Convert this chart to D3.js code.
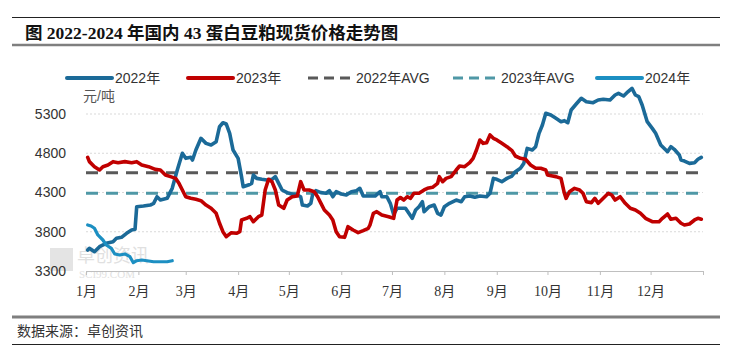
<!DOCTYPE html>
<html>
<head>
<meta charset="utf-8">
<script src="https://cdn.jsdelivr.net/npm/d3@7"></script>
<style>
  body { margin: 0; background: #fff; }
  svg text { font-family: "Liberation Sans", "Noto Sans CJK SC", sans-serif; }
</style>
</head>
<body>
<div id="chart"></div>
<script>
// month axis (day of year where each month starts)
var monthLabels = ["1月", "2月", "3月", "4月", "5月", "6月", "7月", "8月", "9月", "10月", "11月", "12月"];
var monthStarts = [0, 31, 59, 90, 120, 151, 181, 212, 243, 273, 304, 334];
var yTicks = [3300, 3800, 4300, 4800, 5300];

// [day of year, price yuan/ton]
var p2022 = [[1,3567],[2,3589],[5,3546],[8,3610],[12,3653],[16,3673],[18,3716],[21,3729],[24,3780],[27,3822],
  [29,3831],[30,4119],[34,4128],[38,4140],[40,4162],[42,4246],[44,4204],[48,4226],[51,4353],[54,4587],
  [57,4799],[59,4735],[62,4748],[63,4714],[65,4841],[68,4990],[71,4926],[74,4905],[77,4947],[79,5138],
  [81,5189],[83,5172],[85,5054],[87,4841],[90,4735],[92,4502],[93,4374],[96,4395],[98,4417],[99,4523],
  [101,4480],[104,4468],[107,4459],[110,4468],[112,4502],[114,4417],[116,4332],[119,4298],[122,4277],[125,4268],
  [127,4246],[128,4140],[131,4128],[133,4162],[134,4268],[136,4323],[139,4298],[142,4290],[144,4323],[146,4246],
  [148,4310],[151,4281],[154,4268],[157,4310],[160,4323],[162,4353],[164,4255],[167,4255],[171,4255],[174,4310],
  [175,4246],[178,4246],[180,4162],[182,4020],[184,4099],[187,4099],[189,4099],[191,4035],[193,3971],[195,4077],
  [197,4119],[199,4183],[200,4056],[203,4119],[206,4140],[208,4035],[210,4013],[212,4119],[215,4162],[219,4204],
  [222,4183],[224,4246],[227,4255],[230,4239],[233,4255],[237,4246],[239,4290],[241,4480],[243,4468],[246,4438],
  [249,4480],[252,4510],[254,4565],[257,4608],[259,4671],[261,4862],[264,4841],[266,4884],[268,5054],[270,5160],
  [272,5309],[275,5287],[278,5245],[281,5202],[283,5215],[285,5189],[287,5351],[290,5427],[293,5500],[296,5457],
  [300,5444],[303,5478],[306,5487],[310,5478],[313,5542],[315,5563],[318,5529],[320,5571],[323,5627],[325,5542],
  [327,5521],[329,5415],[332,5202],[335,5117],[337,5054],[340,4905],[343,4841],[344,4820],[346,4884],[348,4850],
  [351,4778],[352,4714],[354,4701],[357,4671],[360,4680],[362,4723],[364,4748]];

var p2023 = [[1,4748],[2,4693],[5,4629],[8,4587],[10,4629],[13,4650],[16,4693],[19,4680],[23,4693],[27,4680],
  [30,4693],[33,4650],[37,4629],[41,4595],[44,4587],[47,4523],[50,4502],[53,4480],[55,4417],[57,4332],
  [59,4246],[62,4226],[65,4213],[68,4196],[71,4140],[74,4099],[77,4035],[79,3908],[81,3801],[83,3737],
  [86,3788],[89,3780],[91,3801],[92,3950],[95,3971],[97,3992],[99,3928],[102,3992],[104,4013],[106,4332],
  [108,4468],[110,4438],[112,4332],[114,4140],[117,4099],[119,4204],[122,4246],[125,4255],[127,4438],[129,4332],
  [132,4332],[135,4310],[137,4246],[139,4162],[141,4077],[144,4013],[146,3950],[148,3801],[150,3737],[153,3729],
  [155,3865],[158,3822],[161,3788],[164,3814],[167,3844],[168,3886],[170,4035],[172,4056],[175,4013],[179,3992],
  [182,3971],[184,4204],[186,4236],[188,4204],[190,4246],[192,4226],[194,4290],[197,4290],[200,4332],[202,4353],
  [205,4366],[208,4417],[209,4502],[211,4438],[213,4480],[216,4502],[219,4587],[221,4638],[224,4629],[227,4680],
  [229,4735],[231,4841],[233,4969],[235,4926],[237,4935],[239,5033],[241,4990],[243,4969],[246,4926],[249,4884],
  [252,4833],[254,4765],[257,4735],[260,4723],[263,4650],[266,4608],[269,4608],[272,4587],[273,4523],[276,4510],
  [278,4502],[281,4480],[283,4290],[284,4226],[286,4310],[289,4353],[292,4332],[294,4290],[296,4183],[299,4171],
  [301,4226],[303,4162],[306,4226],[309,4290],[311,4268],[313,4204],[316,4246],[319,4162],[322,4099],[325,4077],
  [328,4035],[331,3971],[335,3928],[339,3928],[341,3971],[344,4026],[346,3959],[349,3971],[352,3908],[354,3886],
  [357,3899],[360,3950],[362,3971],[364,3959]];

var p2024 = [[1,3886],[3,3873],[5,3844],[7,3759],[10,3695],[12,3631],[15,3589],[17,3517],[20,3504],[23,3517],
  [26,3482],[28,3406],[30,3431],[33,3440],[36,3431],[40,3418],[44,3418],[48,3418],[51,3431]];

var avg2022 = 4552;
var avg2023 = 4290;

var svgWidth = 731;
var svgHeight = 362;

var svg = d3.select("#chart")
  .append("svg")
  .attr("width", svgWidth)
  .attr("height", svgHeight);

var x = d3.scaleLinear().domain([0, 365]).range([86, 703]);
var y = d3.scaleLinear().domain([3300, 5300]).range([271, 114]);

// title block
svg.append("line").attr("x1", 12).attr("x2", 720).attr("y1", 17.5).attr("y2", 17.5)
  .attr("stroke", "#222").attr("stroke-width", 1);
svg.append("text")
  .attr("x", 25).attr("y", 39)
  .style("font-family", "'Liberation Serif', 'Noto Sans CJK SC', serif")
  .style("font-size", "17.5px")
  .style("font-weight", "bold")
  .attr("fill", "#111")
  .text("图 2022-2024 年国内 43 蛋白豆粕现货价格走势图");
svg.append("line").attr("x1", 12).attr("x2", 720).attr("y1", 45).attr("y2", 45)
  .attr("stroke", "#7f7f7f").attr("stroke-width", 2.5);

// watermark
var wm = svg.append("g").attr("opacity", 0.55);
wm.append("rect").attr("x", 50).attr("y", 248).attr("width", 23).attr("height", 23).attr("fill", "#cfcfcf");
wm.append("text").attr("x", 77).attr("y", 262)
  .style("font-size", "18px").attr("fill", "#c8c8c8").text("卓创资讯");
wm.append("text").attr("x", 79).attr("y", 278)
  .style("font-family", "'Liberation Serif', serif")
  .style("font-size", "11px").attr("fill", "#c8c8c8").text("SCI99.COM");

// grid
svg.append("g").selectAll("line")
  .data(yTicks.slice(1))
  .enter().append("line")
  .attr("x1", x(0)).attr("x2", x(365))
  .attr("y1", d => y(d)).attr("y2", d => y(d))
  .attr("stroke", "#d9d9d9").attr("stroke-width", 1)
  .attr("stroke-dasharray", "2,2");

// y axis labels
var leftAxis = d3.axisLeft(y).tickValues(yTicks).tickSize(0).tickPadding(0).tickFormat(d3.format("d"));
var gy = svg.append("g").attr("transform", "translate(66,0)").call(leftAxis);
gy.select(".domain").remove();
gy.selectAll("text")
  .style("font-family", "'Liberation Sans', sans-serif")
  .style("font-size", "14px").attr("fill", "#333");

svg.append("text").attr("x", 83).attr("y", 101)
  .style("font-size", "14px").attr("fill", "#555").text("元/吨");

// x axis
var bottomAxis = d3.axisBottom(x)
  .tickValues(monthStarts.concat([365]))
  .tickSize(4)
  .tickFormat((d, i) => monthLabels[i] || "");
var gx = svg.append("g").attr("transform", "translate(0,271)").call(bottomAxis);
gx.select(".domain").attr("stroke", "#bfbfbf");
gx.selectAll(".tick line").attr("stroke", "#bfbfbf");
gx.selectAll("text")
  .attr("dy", "1.25em")
  .style("font-family", "'Liberation Serif', 'Noto Sans CJK SC', serif")
  .style("font-size", "14px").attr("fill", "#333");

// average lines
svg.append("line").attr("x1", x(0)).attr("x2", x(365)).attr("y1", y(avg2022)).attr("y2", y(avg2022))
  .attr("stroke", "#595959").attr("stroke-width", 3).attr("stroke-dasharray", "12,8");
svg.append("line").attr("x1", x(0)).attr("x2", x(365)).attr("y1", y(avg2023)).attr("y2", y(avg2023))
  .attr("stroke", "#4f98a6").attr("stroke-width", 3).attr("stroke-dasharray", "12,8");

// series
var line = d3.line().x(d => x(d[0])).y(d => y(d[1]));
var series = [
  { data: p2022, color: "#1b6a98", w: 3.6 },
  { data: p2023, color: "#c00000", w: 3.6 },
  { data: p2024, color: "#1c8fc2", w: 3.2 }
];
svg.append("g").selectAll("path")
  .data(series)
  .enter().append("path")
  .attr("d", d => line(d.data))
  .attr("fill", "none")
  .attr("stroke", d => d.color)
  .attr("stroke-width", d => d.w)
  .attr("stroke-linejoin", "round")
  .attr("stroke-linecap", "round");

// legend
var legend = [
  { label: "2022年", color: "#1b6a98", dash: null, x: 67 },
  { label: "2023年", color: "#c00000", dash: null, x: 188 },
  { label: "2022年AVG", color: "#595959", dash: "10,6", x: 308 },
  { label: "2023年AVG", color: "#4f98a6", dash: "10,6", x: 453 },
  { label: "2024年", color: "#1c8fc2", dash: null, x: 597 }
];
var lg = svg.append("g").selectAll("g").data(legend).enter().append("g")
  .attr("transform", d => `translate(${d.x},78)`);
lg.append("line").attr("x1", 0).attr("x2", 45)
  .attr("stroke", d => d.color).attr("stroke-width", d => d.dash ? 3 : 4)
  .attr("stroke-dasharray", d => d.dash)
  .attr("stroke-linecap", d => d.dash ? "butt" : "round");
lg.append("text").attr("x", 48).attr("y", 5)
  .style("font-size", "14px").attr("fill", "#333")
  .text(d => d.label);

// footer
svg.append("line").attr("x1", 12).attr("x2", 720).attr("y1", 317).attr("y2", 317)
  .attr("stroke", "#7f7f7f").attr("stroke-width", 3);
svg.append("text").attr("x", 17).attr("y", 336)
  .style("font-size", "14px").attr("fill", "#333")
  .text("数据来源：卓创资讯");
svg.append("line").attr("x1", 12).attr("x2", 720).attr("y1", 344.5).attr("y2", 344.5)
  .attr("stroke", "#222").attr("stroke-width", 1);
</script>
</body>
</html>
